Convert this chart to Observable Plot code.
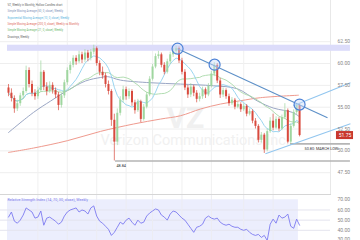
<!DOCTYPE html>
<html><head><meta charset="utf-8">
<script src="https://cdn.jsdelivr.net/npm/d3@7"></script>
<script src="https://cdn.jsdelivr.net/npm/@observablehq/plot@0.6"></script>
<style>
html,body{margin:0;padding:0;background:#fff;}
#chart{width:360px;height:240px;overflow:hidden;}
#chart svg{display:block;}
</style></head><body><div id="chart"></div>
<script>
// Weekly candles (index = week)
const opens  = [57.2,56.6,56.0,54.8,55.4,56.3,56.8,59.2,57.6,56.6,56.2,56.9,59.0,57.3,56.8,57.5,56.9,56.4,55.2,56.3,57.8,59.2,59.8,60.6,60.2,61.0,60.4,61.2,60.6,61.3,61.7,60.0,59.0,58.6,57.6,56.8,53.5,51.0,54.3,55.8,57.0,56.2,56.8,55.5,54.6,55.6,53.6,55.0,56.4,58.2,59.6,60.8,61.0,59.8,59.0,60.2,61.0,61.4,61.7,60.3,59.0,57.2,56.4,57.3,56.6,55.9,56.2,57.0,56.4,57.4,58.8,59.8,58.0,56.4,56.9,56.2,55.4,55.8,55.0,55.3,54.7,55.1,54.2,54.5,53.4,52.8,51.2,51.8,50.1,52.2,53.4,52.6,53.6,52.5,53.8,54.6,51.0,52.8,54.4,55.2];
const highs  = [57.6,57.1,56.3,55.8,56.6,57.2,59.7,59.5,58.0,57.0,57.3,60.3,59.2,57.8,57.9,57.8,57.2,56.7,56.6,58.1,59.5,60.2,60.9,60.9,61.4,61.3,61.6,61.5,61.6,62.1,61.9,60.3,59.6,58.9,58.0,57.0,54.2,54.8,56.2,57.4,57.3,57.1,57.0,55.8,55.9,55.8,55.3,56.7,58.5,59.9,61.1,61.4,61.2,60.1,60.5,61.3,61.7,62.0,61.9,60.6,59.3,57.5,57.7,57.5,56.9,56.6,57.3,57.2,57.7,59.1,60.1,60.0,58.3,57.2,57.1,56.5,56.1,56.0,55.6,55.5,55.4,55.3,54.8,54.7,53.7,53.0,52.1,52.0,52.5,53.8,54.2,53.9,53.8,54.1,55.4,54.8,53.1,54.7,55.4,55.4];
const lows   = [56.2,55.6,54.3,54.5,55.1,55.9,56.6,57.2,56.2,55.8,55.9,56.7,56.9,56.3,56.6,56.5,56.0,54.6,54.9,56.0,57.5,58.8,59.5,59.8,60.0,60.0,60.1,60.2,60.3,61.0,59.7,58.6,58.2,57.2,56.4,52.8,48.84,50.6,54.0,55.5,55.8,55.9,55.1,54.2,54.4,53.2,53.4,54.8,56.2,58.0,59.4,60.5,59.5,58.7,58.8,59.9,60.7,61.0,60.0,58.7,56.9,56.0,56.1,56.2,55.5,55.6,55.9,56.0,56.2,57.2,58.5,57.7,56.0,56.1,55.9,55.1,55.2,54.7,54.8,54.4,54.5,53.9,54.0,53.1,52.5,50.9,50.9,49.7,49.9,52.0,52.3,52.4,52.2,52.3,53.6,50.8,50.8,52.6,54.1,51.6];
const closes = [56.6,56.0,54.8,55.4,56.3,56.8,59.2,57.6,56.6,56.2,56.9,59.0,57.3,56.8,57.5,56.9,56.4,55.2,56.3,57.8,59.2,59.8,60.6,60.2,61.0,60.4,61.2,60.6,61.3,61.7,60.0,59.0,58.6,57.6,56.8,53.5,51.0,54.3,55.8,57.0,56.2,56.8,55.5,54.6,55.6,53.6,55.0,56.4,58.2,59.6,60.8,61.0,59.8,59.0,60.2,61.0,61.4,61.7,60.3,59.0,57.2,56.4,57.3,56.6,55.9,56.2,57.0,56.4,57.4,58.8,59.8,58.0,56.4,56.9,56.2,55.4,55.8,55.0,55.3,54.7,55.1,54.2,54.5,53.4,52.8,51.2,51.8,50.1,52.2,53.4,52.6,53.6,52.5,53.8,54.6,51.0,52.8,54.4,55.2,51.75];

// RSI (14) per week
const rsi = [53,58,49,47,50,55,62,60,58,52,53,59,45,52,53,51,49,46,48,54,58,60,61,62,58,60,59,56,62,64,54,49,47,44,41,35,38,43,48,46,50,52,48,45,50,47,48,54,57,59,61,60,55,53,50,56,59,58,55,52,50,46,42,38,43,44,46,52,54,52,51,52,48,46,45,46,44,43,43,41,40,41,38,36,35,36,33,35,30,46,51,47,55,52,53,56,44,42,51,45];

// Long moving averages read at sample weeks
const sma50Idx = [0,8.5,14.3,20,26.2,31.3,33.7,38.1,48.3,58.5,69.7,77.9,84.7,90.1,96.6,99];
const sma50    = [52.1,54.4,55.7,56.9,58.0,58.4,58.5,58.1,57.8,57.65,57.45,57.1,55.7,54.9,54.4,53.9];
const sma200Idx = [0,8.5,20,31.3,42.5,51.7,58.5,65.3,72.1,78.9,85.7,98.6];
const sma200    = [49.82,50.32,51.16,52.23,53.07,53.64,54.02,54.79,55.36,55.74,56.09,56.37];

// Drawings
const bandRange = [61.4, 62.1];
const bandIdx = [-0.34, 116.3];
const levelPrices = [48.84, 50.80];
const levelStart = [36.4, 95.9];
const levelEnd = 116.3;
const levelLabels = ["48.84", "50.80: MARCH LOW"];
const levelLabelIdx = [36.7, 100.7];
const trendX1 = [57.5, 96.9, 87.4];
const trendY1 = [61.70, 55.17, 49.67];
const trendX2 = [108.5, 116.3, 116.3];
const trendY2 = [53.79, 57.80, 53.11];
const trendColors = ["#5d90c8", "#92c6ef", "#92c6ef"];
const pivotIdx = [57.5, 70.1, 99];
const pivotPrice = [61.70, 59.87, 55.3];
const lastTagIdx = [111.55, 117.35];

// Axes
const priceTicks = [47.5, 50, 52.5, 55, 57.5, 60, 62.5];
const rsiTicks = [40, 50, 60, 70];
const rsiBottomTick = [30];
const gridWeeks = [10, 20, 30, 40, 49, 59, 69, 80, 90];

const legendLines = [
  "VZ, Weekly in Monthly, Hollow Candles chart",
  "Simple Moving Average (50, 0, close), Weekly",
  "Exponential Moving Average (10, 0, close), Weekly",
  "Simple Moving Average (200, 0, close), Weekly vs Monthly",
  "Simple Moving Average (21, 0, close), Weekly",
  "Drawings, Weekly"
];
const legendColors = ["#666", "#8090b8", "#5ab4e0", "#e06a5c", "#6bb86b", "#666"];
const rsiTitle = "Relative Strength Index (14, 70, 30, close), Weekly";

const FONT = "Roboto, 'Open Sans', sans-serif";
const xDomain = [-2.72, 109.52];
const UP = "#9fd69f", DOWN = "#d84a3e";

const candles = closes.map((c, i) => ({i, o: opens[i], h: highs[i], l: lows[i], c}));
const s50 = sma50Idx.map((x, k) => ({x, y: sma50[k]}));
const s200 = sma200Idx.map((x, k) => ({x, y: sma200[k]}));
const trends = trendX1.map((x, k) => ({x1: x, y1: trendY1[k], x2: trendX2[k], y2: trendY2[k], c: trendColors[k]}));
const pivots = pivotIdx.map((x, k) => ({x, y: pivotPrice[k]}));
const levels = levelPrices.map((p, k) => ({p, s: levelStart[k], lx: levelLabelIdx[k], t: levelLabels[k]}));
const last = closes[closes.length - 1];

const price = Plot.plot({
  width: 360, height: 194,
  marginLeft: 0, marginRight: 30, marginTop: 0, marginBottom: 0,
  x: {domain: xDomain, axis: null},
  y: {domain: [45, 67.22], axis: null},
  color: {type: "identity"},
  style: {fontFamily: FONT, background: "transparent", overflow: "visible"},
  marks: [
    Plot.gridY(priceTicks, {stroke: "#eeeeee", strokeOpacity: 1}),
    Plot.gridX(gridWeeks, {stroke: "#f0f0f0", strokeOpacity: 1}),
    Plot.frame({anchor: "right", stroke: "#e8e8e8"}),
    Plot.text(["VZ"], {frameAnchor: "top-left", dx: 166, dy: 106, fontSize: 30, fontWeight: "bold", textAnchor: "start", fill: "#f0f0f0"}),
    Plot.text(["Verizon Communications Inc."], {frameAnchor: "top-left", dx: 100, dy: 134, fontSize: 14.5, textAnchor: "start", fill: "#f1f1f1"}),
    Plot.rect([bandRange], {x1: bandIdx[0], x2: bandIdx[1], y1: d => d[0], y2: d => d[1], fill: "#dcdcfa"}),
    Plot.ruleY(levels, {y: "p", x1: "s", x2: levelEnd, stroke: "#b5b5b5", strokeWidth: 1.6}),
    Plot.line(s200, {x: "x", y: "y", curve: "catmull-rom", stroke: "#ef9a8e", strokeWidth: 1}),
    Plot.line(s50, {x: "x", y: "y", curve: "catmull-rom", stroke: "#9aa6c4", strokeWidth: 1}),
    Plot.lineY(closes, Plot.windowY({k: 21, anchor: "end", strict: false}, {x: (d, i) => i, y: d => d, stroke: "#a9d9a9", strokeWidth: 0.9})),
    Plot.lineY(closes, Plot.windowY({k: 8, anchor: "end", strict: false}, {x: (d, i) => i, y: d => d, stroke: "#8fd0ee", strokeWidth: 0.9})),
    Plot.ruleX(candles, {x: "i", y1: "l", y2: "h", stroke: d => d.c >= d.o ? UP : DOWN, strokeWidth: 0.7}),
    Plot.ruleX(candles, {x: "i", y1: "o", y2: "c", stroke: d => d.c >= d.o ? UP : DOWN, strokeWidth: 2}),
    Plot.link(trends, {x1: "x1", y1: "y1", x2: "x2", y2: "y2", stroke: "c", strokeWidth: 1.1}),
    Plot.dot(pivots, {x: "x", y: "y", r: 5.5, stroke: "#4d82d6", strokeWidth: 1.2, fill: "#c9dcfa", fillOpacity: 0.45}),
    Plot.text(levels, {x: "lx", y: "p", text: "t", dy: 4.5, fontSize: 3.8, textAnchor: "start", fill: "#333"}),
    Plot.axisY(priceTicks, {anchor: "right", tickSize: 0, tickPadding: 7, tickFormat: d => d.toFixed(2), fontSize: 5, fill: "#888"}),
    Plot.rect([last], {x1: lastTagIdx[0], x2: lastTagIdx[1], y1: d => d - 0.46, y2: d => d + 0.46, fill: "#c8372d"}),
    Plot.text([last], {x: (lastTagIdx[0] + lastTagIdx[1]) / 2, y: d => d, text: d => d.toFixed(2), fontSize: 5, fill: "#fff"}),
    ...legendLines.map((t, k) => Plot.text([t], {frameAnchor: "top-left", dx: 7, dy: 3.5 + k * 6.3, text: d => d, textAnchor: "start", fontSize: 2.8, fill: legendColors[k]}))
  ]
});

const rsiChart = Plot.plot({
  width: 360, height: 46,
  marginLeft: 0, marginRight: 30, marginTop: 0, marginBottom: 0,
  x: {domain: xDomain, axis: null},
  y: {domain: [30, 75.2], axis: null},
  style: {fontFamily: FONT, background: "transparent", overflow: "visible"},
  marks: [
    Plot.rect([[30, 70]], {x1: bandIdx[0], x2: 98.6, y1: d => d[0], y2: d => d[1], fill: "#eceefd"}),
    Plot.gridY([40, 50, 60], {stroke: "#e4e4ee", strokeOpacity: 1}),
    Plot.gridX(gridWeeks, {stroke: "#ececf2", strokeOpacity: 1}),
    Plot.frame({anchor: "top", stroke: "#d6d6d6"}),
    Plot.lineY(rsi, {x: (d, i) => i, y: d => d, stroke: "#7d7bf0", strokeWidth: 0.9}),
    Plot.axisY(rsiTicks, {anchor: "right", tickSize: 0, tickPadding: 7, tickFormat: d => d.toFixed(2), fontSize: 5, fill: "#888"}),
    Plot.axisY(rsiBottomTick, {anchor: "right", tickSize: 0, tickPadding: 7, tickFormat: d => d.toFixed(2), fontSize: 5, fill: "#888", lineAnchor: "bottom"}),
    Plot.text([rsiTitle], {frameAnchor: "top-left", dx: 7, dy: 3.5, textAnchor: "start", fontSize: 3.7, fill: "#7a78ea"})
  ]
});

const root = document.getElementById("chart");
root.appendChild(price);
root.appendChild(rsiChart);
</script>
</body></html>
